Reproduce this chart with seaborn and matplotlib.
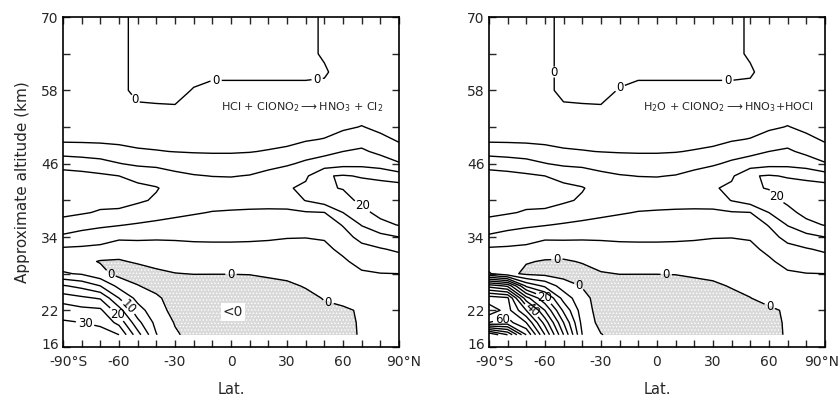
import numpy as np
import matplotlib
matplotlib.use("Agg")
import matplotlib.pyplot as plt
from matplotlib.transforms import ScaledTranslation
import seaborn as sns

sns.set_style("ticks")
plt.rcParams['font.family'] = ['DejaVu Sans']
plt.rcParams['hatch.color'] = '#6e6e6e'
plt.rcParams['hatch.linewidth'] = 0.6

# ---------------- data ----------------
lats = [-90, -80, -70, -60, -50, -40, -30, -20, -10, 0, 10, 20, 30, 40, 50, 60, 70, 80, 90]
alts = [18, 20, 22, 24, 26, 28, 30, 32, 34, 36, 38, 40, 42, 44, 46, 48, 50, 52, 55, 58, 61, 64, 67, 70]

# estimated field values, one list per latitude (bottom -> top)
hcl_by_lat = [
    [34, 30.5, 28, 22.5, 15.5, 5.5, 2.5, 4.2, 9.3, 12.4, 16.5, 17.5, 17.8, 17, 13.0, 8.2, 4.0, 2.0, 1.2, 1, 1, 1, 1, 1],
    [33, 30, 26.5, 21, 13.5, 4.5, 1.2, 4.0, 8.3, 11.5, 15.5, 17.5, 17.6, 16.5, 12.5, 7.8, 4.0, 2.0, 1.2, 1, 1, 1, 1, 1],
    [32, 29, 26, 19.5, 10, 1.5, -0.3, 3.5, 7.5, 10.8, 14.5, 16.5, 16.7, 15.8, 11.7, 7.4, 3.9, 2.0, 1.2, 1, 1, 1, 1, 1],
    [30, 23.5, 17, 10, 3.5, -1.5, -0.4, 2.0, 6.0, 10.3, 14.5, 16, 16.2, 15, 10.2, 6.5, 3.8, 2.0, 1.2, 1, 1, 1, 1, 1],
    [17, 11.5, 7, 3.5, 0.2, -2, 0.5, 2.5, 6, 9.5, 13.5, 15.5, 15.6, 14.2, 9.0, 5.5, 3.7, 2.0, 0.6, -1, -1, -1, -1, -1],
    [5.2, 3.5, 2, 0.8, -1.5, -0.8, 1.2, 2.5, 5.8, 8.8, 12.3, 14.6, 15.2, 13.4, 8.5, 5.2, 3.6, 2.0, 0.4, -1, -1, -1, -1, -1],
    [0.6, -0.3, -1.5, -2, -1.5, -0.1, 1.5, 3.0, 5.8, 8.3, 11.2, 13.3, 13.8, 11.2, 8.0, 4.9, 3.4, 2.0, 0.3, -1, -1, -1, -1, -1],
    [-1.5, -2, -2.3, -2.3, -1.8, 0.1, 1.8, 3.4, 6.0, 8.0, 10.4, 12.3, 12.6, 10.3, 7.5, 4.7, 3.2, 2.0, 1.0, 0.2, -1, -1, -1, -1],
    [-2, -2.5, -2.6, -2.5, -2, 0.1, 2.0, 3.6, 6.0, 7.8, 9.8, 11.8, 12.2, 9.9, 7.3, 4.6, 3.1, 2.0, 1.2, 0.6, -0.5, -0.6, -0.6, -0.6],
    [-2.2, -2.7, -2.8, -2.6, -2, 0.1, 2.0, 3.6, 6.0, 7.6, 9.6, 11.6, 12.0, 9.8, 7.3, 4.6, 3.1, 2.0, 1.2, 0.6, -0.5, -0.6, -0.6, -0.6],
    [-2.3, -2.8, -2.9, -2.6, -2, 0.2, 2.0, 3.5, 5.9, 7.5, 9.4, 11.6, 12.2, 10.2, 7.6, 4.8, 3.1, 2.0, 1.2, 0.6, -0.5, -0.6, -0.6, -0.6],
    [-2.3, -2.8, -2.9, -2.6, -1.6, 0.8, 2.2, 3.5, 5.6, 7.3, 9.2, 11.8, 13.3, 11.5, 8.4, 5.3, 3.3, 2.0, 1.2, 0.6, -0.5, -0.6, -0.6, -0.6],
    [-2.2, -2.6, -2.6, -2.2, -1.0, 1.4, 2.5, 3.5, 5.2, 7.2, 9.2, 12.0, 14.5, 13.2, 9.3, 6.0, 3.6, 2.0, 1.2, 0.6, -0.5, -0.6, -0.6, -0.6],
    [-2, -2.3, -2.2, -1.5, 0.4, 2, 2.8, 3.8, 5.1, 7.3, 9.6, 15.2, 16, 14.2, 11, 7.5, 4.5, 2.3, 1.2, 0.6, -0.5, -0.6, -0.6, -0.6],
    [-1.5, -1.5, -1, 0.3, 1.5, 2.3, 3, 4, 5.4, 7.5, 9.9, 17.5, 19.5, 19.6, 12.2, 8.7, 5.2, 3.0, 1.5, 0.6, -0.3, 0.3, 0.3, 0.3],
    [-1.2, -1.2, -0.8, 1.5, 2.6, 3.4, 4.3, 6, 8.2, 10.3, 15, 18.5, 20.2, 20.4, 13.3, 10, 7, 4.2, 2, 1, 1, 1, 1, 1],
    [0.4, 0.5, 0.6, 1.8, 3.3, 4.4, 6.5, 8.5, 11.5, 15.3, 18.5, 21, 22, 19.6, 13.5, 10.8, 7.9, 5.2, 2.5, 1.2, 1, 1, 1, 1],
    [1.5, 2, 2.6, 3.3, 4.0, 4.9, 7.2, 9.6, 13.5, 18.5, 21.5, 23, 22.5, 18.5, 12.8, 8.8, 6, 4, 2, 1.2, 1, 1, 1, 1],
    [2, 2.5, 3, 3.6, 4.3, 5.0, 7.8, 10.8, 15, 20.3, 22, 23, 22.3, 17.2, 10.5, 6.5, 4.5, 3, 2, 1.2, 1, 1, 1, 1],
]

h2o_by_lat = [
    [95, 60, 52, 58, 38, 5.5, 2.5, 4.2, 9.3, 12.4, 16.5, 17.5, 17.8, 17, 13.0, 8.2, 4.0, 2.0, 1.2, 1, 1, 1, 1, 1],
    [85, 62, 57, 56, 34, 1.5, 1.2, 4.0, 8.3, 11.5, 15.5, 17.5, 17.6, 16.5, 12.5, 7.8, 4.0, 2.0, 1.2, 1, 1, 1, 1, 1],
    [65, 55, 45, 32, 14, -1, 0.3, 3.5, 7.5, 10.8, 14.5, 16.5, 16.7, 15.8, 11.7, 7.4, 3.9, 2.0, 1.2, 1, 1, 1, 1, 1],
    [45, 38, 30, 21, 9, -1.5, -0.3, 2.0, 6.0, 10.3, 14.5, 16, 16.2, 15, 10.2, 6.5, 3.8, 2.0, 1.2, 1, 1, 1, 1, 1],
    [25, 20, 14, 8, 2.5, -2, -0.5, 2.2, 6, 9.5, 13.5, 15.5, 15.6, 14.2, 9.0, 5.5, 3.7, 2.0, 0.6, -1, -1, -1, -1, -1],
    [5, 3.5, 2.5, 1.5, -0.3, -1.5, 0.3, 2.5, 5.8, 8.8, 12.3, 14.6, 15.2, 13.4, 8.5, 5.2, 3.6, 2.0, 0.4, -1, -1, -1, -1, -1],
    [0.2, -1.5, -2, -2, -1.5, -0.3, 1.5, 3.0, 5.8, 8.3, 11.2, 13.3, 13.8, 11.2, 8.0, 4.9, 3.4, 2.0, 0.3, -1, -1, -1, -1, -1],
    [-1.5, -2, -2.3, -2.3, -1.8, 0.1, 1.8, 3.4, 6.0, 8.0, 10.4, 12.3, 12.6, 10.3, 7.5, 4.7, 3.2, 2.0, 1.0, 0.2, -1, -1, -1, -1],
    [-2, -2.5, -2.6, -2.5, -2, 0.1, 2.0, 3.6, 6.0, 7.8, 9.8, 11.8, 12.2, 9.9, 7.3, 4.6, 3.1, 2.0, 1.2, 0.6, -0.5, -0.6, -0.6, -0.6],
    [-2.2, -2.7, -2.8, -2.6, -2, 0.1, 2.0, 3.6, 6.0, 7.6, 9.6, 11.6, 12.0, 9.8, 7.3, 4.6, 3.1, 2.0, 1.2, 0.6, -0.5, -0.6, -0.6, -0.6],
    [-2.3, -2.8, -2.9, -2.6, -2, 0.2, 2.0, 3.5, 5.9, 7.5, 9.4, 11.6, 12.2, 10.2, 7.6, 4.8, 3.1, 2.0, 1.2, 0.6, -0.5, -0.6, -0.6, -0.6],
    [-2.3, -2.8, -2.9, -2.6, -1.6, 0.8, 2.2, 3.5, 5.6, 7.3, 9.2, 11.8, 13.3, 11.5, 8.4, 5.3, 3.3, 2.0, 1.2, 0.6, -0.5, -0.6, -0.6, -0.6],
    [-2.2, -2.6, -2.6, -2.2, -1.0, 1.4, 2.5, 3.5, 5.2, 7.2, 9.2, 12.0, 14.5, 13.2, 9.3, 6.0, 3.6, 2.0, 1.2, 0.6, -0.5, -0.6, -0.6, -0.6],
    [-2, -2.3, -2.2, -1.5, 0.4, 2, 2.8, 3.8, 5.1, 7.3, 9.6, 15.2, 16, 14.2, 11, 7.5, 4.5, 2.3, 1.2, 0.6, -0.5, -0.6, -0.6, -0.6],
    [-1.5, -1.5, -1.2, -0.1, 1.3, 2.3, 3, 4, 5.4, 7.5, 9.9, 17.5, 19.5, 19.6, 12.2, 8.7, 5.2, 3.0, 1.5, 0.6, -0.3, 0.3, 0.3, 0.3],
    [-1.2, -1.2, -0.8, 1.5, 2.6, 3.4, 4.3, 6, 8.2, 10.3, 15, 18.5, 20.2, 20.4, 13.3, 10, 7, 4.2, 2, 1, 1, 1, 1, 1],
    [0.4, 0.5, 0.6, 1.8, 3.3, 4.4, 6.5, 8.5, 11.5, 15.3, 18.5, 21, 22, 19.6, 13.5, 10.8, 7.9, 5.2, 2.5, 1.2, 1, 1, 1, 1],
    [1.5, 2, 2.6, 3.3, 4.0, 4.9, 7.2, 9.6, 13.5, 18.5, 21.5, 23, 22.5, 18.5, 12.8, 8.8, 6, 4, 2, 1.2, 1, 1, 1, 1],
    [2, 2.5, 3, 3.6, 4.3, 5.0, 7.8, 10.8, 15, 20.3, 22, 23, 22.3, 17.2, 10.5, 6.5, 4.5, 3, 2, 1.2, 1, 1, 1, 1],
]

hcl_levels = [0, 5, 10, 15, 20, 25, 30]
h2o_levels = [0, 5, 10, 15, 20, 25, 30, 35, 40, 45, 50, 55, 60, 65, 70, 75, 80, 85, 90]

hcl_reaction = r'HCl + ClONO$_2$$\longrightarrow$HNO$_3$ + Cl$_2$'
h2o_reaction = r'H$_2$O + ClONO$_2$$\longrightarrow$HNO$_3$+HOCl'

xtick_vals = [-90, -60, -30, 0, 30, 60, 90]
xtick_text = ['-90°S', '-60', '-30', '0', '30', '60', '90°N']
ytick_vals = [16, 22, 34, 46, 58, 70]

# label placements (level -> approximate spots)
hcl_label_spots = {
    0: [(-52, 56.4), (-8, 59.7), (46, 60.2), (-65, 27.6), (0, 27.8), (52, 23.2)],
    20: [(70, 38.9), (-59, 22.0)],
    10: [(-54, 22.8)],
    30: [(-78, 20.1)],
}
h2o_label_spots = {
    0: [(-59, 61), (-20, 58.5), (38, 60), (-53.6, 30.5), (-41, 26.4), (5, 27.8), (60.5, 22.7)],
    20: [(65, 40.9), (-60, 24.2)],
    40: [(-66, 22.4)],
    60: [(-82.5, 20.1)],
}
upright_levels = [0, 20, 30, 60]

# ---------------- drawing ----------------
fig = plt.figure(figsize=(8.4, 3.97), dpi=100)
ax1 = fig.add_axes([0.075, 0.126, 0.4, 0.831])
ax2 = fig.add_axes([0.582, 0.126, 0.4, 0.831])

lat = np.array(lats, dtype=float)
alt = np.array(alts, dtype=float)


def draw(ax, by_lat, levels, spots, reaction):
    Z = np.array(by_lat, dtype=float).T
    low = alt <= 34
    ax.contourf(lat, alt[low], Z[low], levels=[-100, 0], colors=['#d9d9d9'],
                hatches=['.....'])
    for lev in levels:
        cs = ax.contour(lat, alt, Z, levels=[lev], colors='black', linewidths=1.0)
        if lev in spots:
            txts = ax.clabel(cs, manual=spots[lev], fmt='%d', fontsize=8.5,
                             inline=True, inline_spacing=2)
            if lev in upright_levels:
                for t in txts:
                    t.set_rotation(0)
    ax.text(38, 55.3, reaction, ha='center', va='center', fontsize=8)
    ax.set_xlim(-90, 90)
    ax.set_ylim(16, 70)
    ax.set_xticks(xtick_vals)
    ax.set_xticklabels(xtick_text)
    ax.set_xticks(np.arange(-80, 90, 10), minor=True)
    ax.set_yticks(ytick_vals)
    ax.set_yticks([28, 40, 52, 64], minor=True)
    ax.tick_params(which='both', direction='in', top=True, right=True,
                   length=5, width=1, labelsize=10)
    ax.tick_params(axis='x', pad=6)
    ax.tick_params(axis='y', pad=3)
    for s in ax.spines.values():
        s.set_linewidth(1.2)
        s.set_color('black')
    ax.set_xlabel('Lat.', fontsize=10.5, labelpad=9)
    # nudge the end labels so the hemisphere letters trail the tick
    labs = ax.get_xticklabels()
    labs[0].set_transform(labs[0].get_transform() + ScaledTranslation(4 / 72, 0, fig.dpi_scale_trans))
    labs[-1].set_transform(labs[-1].get_transform() + ScaledTranslation(3 / 72, 0, fig.dpi_scale_trans))
    ylabs = ax.get_yticklabels()
    ylabs[0].set_transform(ylabs[0].get_transform() + ScaledTranslation(0, 2.5 / 72, fig.dpi_scale_trans))


draw(ax1, hcl_by_lat, hcl_levels, hcl_label_spots, hcl_reaction)
draw(ax2, h2o_by_lat, h2o_levels, h2o_label_spots, h2o_reaction)

ax2.get_xticklabels()[-1].set_transform(
    ax2.get_xticklabels()[-1].get_transform() + ScaledTranslation(-5 / 72, 0, fig.dpi_scale_trans))

ax1.text(1, 21.7, '<0', ha='center', va='center', fontsize=10,
         bbox=dict(facecolor='white', edgecolor='none', pad=1.5))
ax1.set_ylabel('Approximate altitude (km)', fontsize=11, labelpad=8)

fig.savefig('out.png', dpi=100, facecolor='white')
